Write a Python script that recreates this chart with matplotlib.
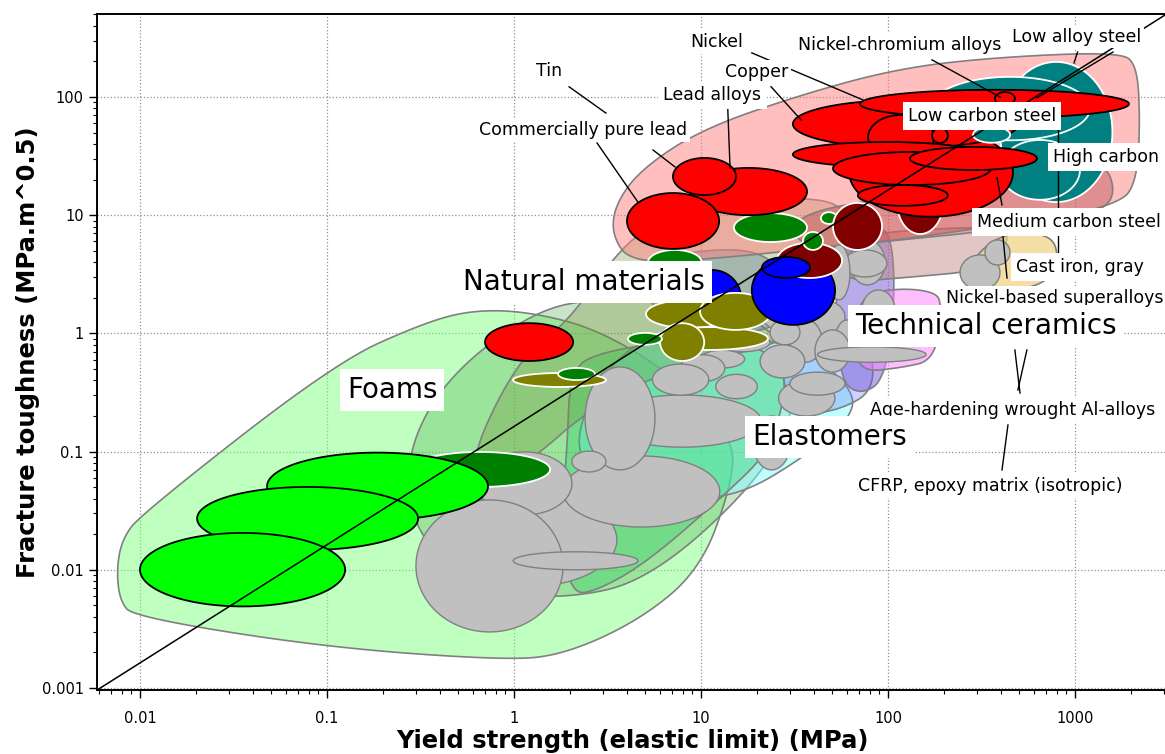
import numpy as np
import matplotlib.pyplot as plt

plt.rcParams['font.family'] = ['DejaVu Sans']

# guide line K = c * sigma_y
guide_ratio = 0.163

# family envelopes, outline points (yield strength MPa, toughness MPa.m^0.5)
env_foams = [(0.0075, 0.0100), (0.0080, 0.0179), (0.0100, 0.0291), (0.110, 0.562),
             (0.326, 1.22), (0.604, 1.58), (1.22, 1.52), (2.88, 1.07), (7.72, 0.403),
             (15.2, 0.125), (14.3, 0.0473), (9.88, 0.0100), (4.72, 0.00376),
             (1.83, 0.0019), (0.873, 0.00172), (0.095, 0.00222), (0.0092, 0.0040),
             (0.0078, 0.0055)]
env_band = [(0.261, 0.0575), (0.314, 0.185), (0.533, 0.562), (1.33, 1.58), (2.88, 1.99),
            (9.88, 1.92), (26.4, 1.07), (33.8, 0.273), (20.7, 0.0575), (5.34, 0.0082),
            (1.83, 0.0056), (0.658, 0.0068), (0.314, 0.0179)]
env_elast = [(1.99, 0.125), (3.69, 0.798), (9.88, 1.07), (33.8, 0.798), (66.6, 0.332),
             (62.6, 0.185), (33.8, 0.085), (16.2, 0.043), (7.72, 0.039), (2.88, 0.0575)]
env_polym = [(1.92, 0.0936), (1.99, 0.49), (2.88, 0.696), (7.72, 0.879), (20.7, 0.798),
             (30.0, 0.45), (23.4, 0.103), (14.3, 0.0473), (5.34, 0.0121), (2.88, 0.0068),
             (1.99, 0.0061), (1.76, 0.0264)]
env_natural = [(0.604, 0.103), (1.08, 0.632), (1.92, 1.22), (3.47, 4.61), (5.34, 8.27),
               (12.6, 12.7), (33.8, 14.3), (58.9, 12.2), (66.6, 5.60), (55.4, 1.92),
               (26.4, 0.798), (9.88, 0.595), (2.88, 0.273), (1.08, 0.0699), (0.658, 0.0575)]
env_glass = [(29.9, 1.07), (55.4, 1.30), (80.1, 0.879), (85.2, 0.332), (55.4, 0.225),
             (33.8, 0.204), (26.4, 0.403)]
env_nontech = [(4.72, 4.02), (9.88, 5.08), (20.7, 5.08), (29.9, 2.83), (28.1, 1.07),
               (9.88, 0.969), (5.34, 1.58)]
env_ceramic = [(55.4, 7.21), (90.6, 8.27), (105, 6.17), (109, 1.92), (96.4, 0.403),
               (70.8, 0.301), (55.4, 0.403), (52.1, 1.92)]
env_superalloy = [(70.8, 2.11), (116, 2.42), (179, 2.24), (194, 1.75), (179, 0.595),
                  (116, 0.51), (70.8, 0.472), (66.6, 0.879)]
env_composite = [(55.4, 6.80), (397, 8.27), (449, 6.17), (352, 3.44), (116, 2.94),
                 (62.6, 2.72), (52.1, 4.18)]
env_metals = [(3.34, 6.80), (3.47, 12.2), (4.72, 24.1), (9.88, 52.6), (33.8, 104),
              (116, 176), (397, 218), (1741, 240), (2147, 186), (2228, 63.9),
              (2147, 19.9), (1741, 12.2), (397, 7.5), (116, 6.17), (33.8, 5.08),
              (9.88, 4.18), (4.18, 4.02)]
env_ferrous = [(29.9, 10.0), (116, 14.8), (397, 19.9), (1203, 26.6), (1538, 24.1),
               (1630, 13.5), (1203, 10.0), (397, 8.27), (116, 6.17), (33.8, 5.08)]
env_castiron = [(228, 2.33), (352, 6.80), (735, 7.21), (832, 4.18), (650, 2.33)]

# material bubbles: (yield lo, yield hi, toughness lo, toughness hi)
grey_bubbles = [(0.402, 3.55, 0.0072, 0.0447), (1.83, 12.6, 0.0230, 0.0918),
                (3.0, 21.0, 0.109, 0.301), (2.40, 5.67, 0.07, 0.52),
                (0.634, 2.04, 0.0291, 0.0993), (0.299, 1.83, 0.00298, 0.0390),
                (2.04, 3.10, 0.0672, 0.101), (0.99, 4.6, 0.0100, 0.0142),
                (26.0, 52.0, 0.20, 0.40), (19.0, 30.0, 0.07, 0.2),
                (20.7, 33.8, 1.07, 2.33), (62.6, 96.4, 2.57, 6.17), (57.9, 98.6, 3.0, 5.08),
                (47.8, 62.6, 1.92, 5.60), (72.6, 109, 1.07, 2.33), (33.8, 58.9, 0.97, 1.92),
                (52.1, 70.8, 0.60, 1.30), (29.9, 44.4, 0.57, 1.30), (40.7, 62.6, 0.47, 1.07),
                (23.4, 33.8, 0.80, 1.30), (11.9, 23.4, 0.70, 1.01), (9.88, 17.1, 0.51, 0.72),
                (7.72, 13.4, 0.39, 0.66), (5.5, 11.0, 0.30, 0.55), (12.0, 20.0, 0.28, 0.45),
                (20.7, 35.9, 0.42, 0.80), (29.9, 58.9, 0.30, 0.47), (42.0, 160, 0.57, 0.77),
                (243, 397, 2.33, 4.61), (330, 449, 3.79, 6.17)]
foam_polymer = [(0.28, 1.56, 0.0502, 0.0993)]
foam_bubbles = [(0.0478, 0.726, 0.0264, 0.098), (0.0202, 0.307, 0.0147, 0.0502),
                (0.0100, 0.125, 0.0049, 0.0205)]
balsa = [(0.700, 2.07, 0.584, 1.22)]
cork = [(0.988, 3.10, 0.352, 0.462)]
cork_green = [(1.72, 2.71, 0.403, 0.510)]
glass_a = [(8.0, 16.4, 1.13, 3.44)]
wood = [(5.08, 14.7, 1.11, 1.92), (5.54, 22.8, 0.724, 1.13), (6.04, 10.4, 0.584, 1.22),
        (9.88, 23.7, 1.07, 2.20)]
polymer_green = [(4.07, 6.18, 0.80, 1.01), (5.2, 10.1, 3.1, 5.08), (15.0, 36.9, 5.93, 10.4),
                 (43.8, 53.4, 8.43, 10.6)]
glass_b = [(18.7, 52.1, 1.18, 4.52)]
dark_red = [(25.5, 56.8, 2.94, 5.82), (50.8, 92.9, 5.08, 12.7), (112, 197, 6.93, 23.2)]
glass_c = [(21.2, 38.3, 2.94, 4.43)]
polymer_small = [(35.1, 44.9, 5.08, 7.21)]
steels = [(397, 1585, 12.9, 198), (168, 1203, 43, 148), (397, 1063, 13.5, 43.3)]
lead_tin = [(8.73, 36.9, 10.0, 25.1), (7.08, 15.4, 14.8, 30.5), (4.02, 12.5, 5.18, 15.4)]
nonferrous = [(62, 466, 9.7, 55), (31, 500, 37, 94.4), (78.2, 176, 29.3, 70.5),
              (172, 209, 40.8, 54.7), (31, 310, 25.6, 41.6), (50.8, 355, 18.0, 34.3),
              (131, 626, 24.1, 37.8), (69, 209, 12.0, 18.0), (70.8, 1944, 66.4, 115),
              (373, 477, 85.7, 110)]
steel_small = [(285, 450, 41, 56)]


def bubble(x_lo, x_hi, y_lo, y_hi, n=160):
    t = np.linspace(0, 2 * np.pi, n)
    lx, hx, ly, hy = np.log10([x_lo, x_hi, y_lo, y_hi])
    return 10 ** ((lx + hx) / 2 + (hx - lx) / 2 * np.cos(t)), \
        10 ** ((ly + hy) / 2 + (hy - ly) / 2 * np.sin(t))


def smooth(points, rounds=4):
    p = np.log10(np.array(points, dtype=float))
    for _ in range(rounds):
        q = np.roll(p, -1, axis=0)
        out = np.empty((2 * len(p), 2))
        out[0::2] = 0.75 * p + 0.25 * q
        out[1::2] = 0.25 * p + 0.75 * q
        p = out
    return 10 ** p[:, 0], 10 ** p[:, 1]


fig = plt.figure(figsize=(11.65, 7.54), dpi=100)
ax = fig.add_axes([97 / 1165, 64 / 754, 1070 / 1165, 676 / 754])
ax.set_xscale('log')
ax.set_yscale('log')
ax.set_xlim(10 ** -2.23, 10 ** 3.492)
ax.set_ylim(10 ** -3.017, 10 ** 2.702)

envelopes = [(env_foams, (0.5, 1.0, 0.5, 0.5)),
             (env_band, (0.25, 0.63, 0.25, 0.28)),
             (env_elast, (0.5, 1.0, 1.0, 0.5)),
             (env_polym, (0.15, 0.80, 0.40, 0.35)),
             (env_natural, (0.45, 0.55, 0.20, 0.30)),
             (env_glass, (0.45, 0.50, 1.0, 0.35)),
             (env_nontech, (0.31, 0.44, 0.56, 0.35)),
             (env_ceramic, (0.45, 0.35, 0.85, 0.50)),
             (env_superalloy, (1.0, 0.5, 1.0, 0.5)),
             (env_composite, (0.75, 0.50, 0.50, 0.45)),
             (env_metals, (1.0, 0.5, 0.5, 0.5)),
             (env_ferrous, (0.69, 0.28, 0.28, 0.40)),
             (env_castiron, (0.94, 0.82, 0.50, 0.70))]
for pts, fc in envelopes:
    ex, ey = smooth(pts)
    ax.fill(ex, ey, fc=fc, ec='#808080', lw=1.2, zorder=1)

for b in grey_bubbles:
    ax.fill(*bubble(*b), fc='#c0c0c0', ec='#808080', lw=1.0, zorder=2)

layers = [(foam_polymer, '#008000', 'white'),
          (foam_bubbles, '#00ff00', 'black'),
          (balsa, '#ff0000', 'black'),
          (cork, '#808000', 'white'),
          (cork_green, '#008000', 'white'),
          (glass_a, '#0000ff', 'black'),
          (wood, '#808000', 'white'),
          (polymer_green, '#008000', 'white'),
          (glass_b, '#0000ff', 'black'),
          (dark_red, '#800000', 'white'),
          (glass_c, '#0000ff', 'black'),
          (polymer_small, '#008000', 'white'),
          (steels, '#008080', 'white'),
          (lead_tin, '#ff0000', 'black'),
          (nonferrous, '#ff0000', 'black'),
          (steel_small, '#008080', 'white')]
for group, fc, ec in layers:
    for b in group:
        ax.fill(*bubble(*b), fc=fc, ec=ec, lw=1.3, zorder=3)

# guide line across the whole plot
gx = np.array(ax.get_xlim())
ax.plot(gx, guide_ratio * gx, color='black', lw=1.1, zorder=4)

# leader lines
leaders = [((1.97, 122), (3.10, 73.1)), ((18.7, 236), (73.5, 94.4)),
           ((23.7, 122), (34.3, 63.9)), ((2.78, 40.8), (4.60, 12.9)),
           ((5.54, 35.6), (7.26, 25.6)), ((13.9, 80.7), (14.3, 25.1)),
           ((172, 206), (397, 100)), ((1032, 240), (988, 194)),
           ((1596, 240), (626, 98.2)), ((811, 52.6), (811, 4.61)),
           ((383, 20.7), (407, 12.2)), ((412, 6.55), (433, 2.94)),
           ((477, 0.724), (508, 0.313)), ((553, 0.724), (495, 0.332)),
           ((438, 0.168), (407, 0.0699))]
for (x0, y0), (x1, y1) in leaders:
    ax.plot([x0, x1], [y0, y1], color='black', lw=1.0, zorder=5)


def tag(x, y, s, size=12.5, ha='center', z=6, pad=0.15):
    ax.text(x, y, s, fontsize=size, ha=ha, va='center', zorder=z,
            bbox=dict(boxstyle='square,pad=%s' % pad, fc='white', ec='none'))


tag(1.54, 166, 'Tin')
tag(12.2, 292, 'Nickel')
tag(19.9, 163, 'Copper')
tag(11.5, 104, 'Lead alloys', z=7, pad=0.3)
tag(2.34, 52.6, 'Commercially pure lead')
tag(116, 277, 'Nickel-chromium alloys')
tag(1025, 323, 'Low alloy steel')
tag(318, 69.0, 'Low carbon steel', pad=0.3)
tag(762, 31.0, 'High carbon', ha='left', pad=0.3)
tag(299, 8.75, 'Medium carbon steel', ha='left', pad=0.3)
tag(483, 3.65, 'Cast iron, gray', ha='left', pad=0.3)
tag(205, 1.99, 'Nickel-based superalloys', ha='left')
tag(80.1, 0.225, 'Age-hardening wrought Al-alloys', ha='left')
tag(69.1, 0.0512, 'CFRP, epoxy matrix (isotropic)', ha='left')
tag(0.533, 2.72, 'Natural materials', size=20, ha='left', pad=0.25)
tag(0.128, 0.332, 'Foams', size=20, ha='left', pad=0.25)
tag(18.7, 0.133, 'Elastomers', size=20, ha='left', pad=0.25)
tag(66.6, 1.155, 'Technical ceramics', size=20, ha='left', pad=0.25)

decades_x = [0.01, 0.1, 1, 10, 100, 1000]
decades_y = [0.001, 0.01, 0.1, 1, 10, 100]
ax.set_xticks(decades_x, ['0.01', '0.1', '1', '10', '100', '1000'])
ax.set_yticks(decades_y, ['0.001', '0.01', '0.1', '1', '10', '100'])
ax.tick_params(which='major', direction='out', length=6, width=1, labelsize=10.5)
ax.tick_params(which='minor', direction='out', length=3, width=0.8)
ax.tick_params(axis='x', pad=9)
ax.grid(True, which='major', ls=':', color='#909090', lw=0.9)
ax.set_axisbelow(True)
for side in ['top', 'left', 'bottom', 'right']:
    ax.spines[side].set_linewidth(1.4)

ax.set_xlabel('Yield strength (elastic limit) (MPa)', fontsize=17.5, fontweight='bold',
              labelpad=2)
ax.set_ylabel('Fracture toughness (MPa.m^0.5)', fontsize=17.5, fontweight='bold',
              labelpad=1)

fig.savefig('out.png', dpi=100)
